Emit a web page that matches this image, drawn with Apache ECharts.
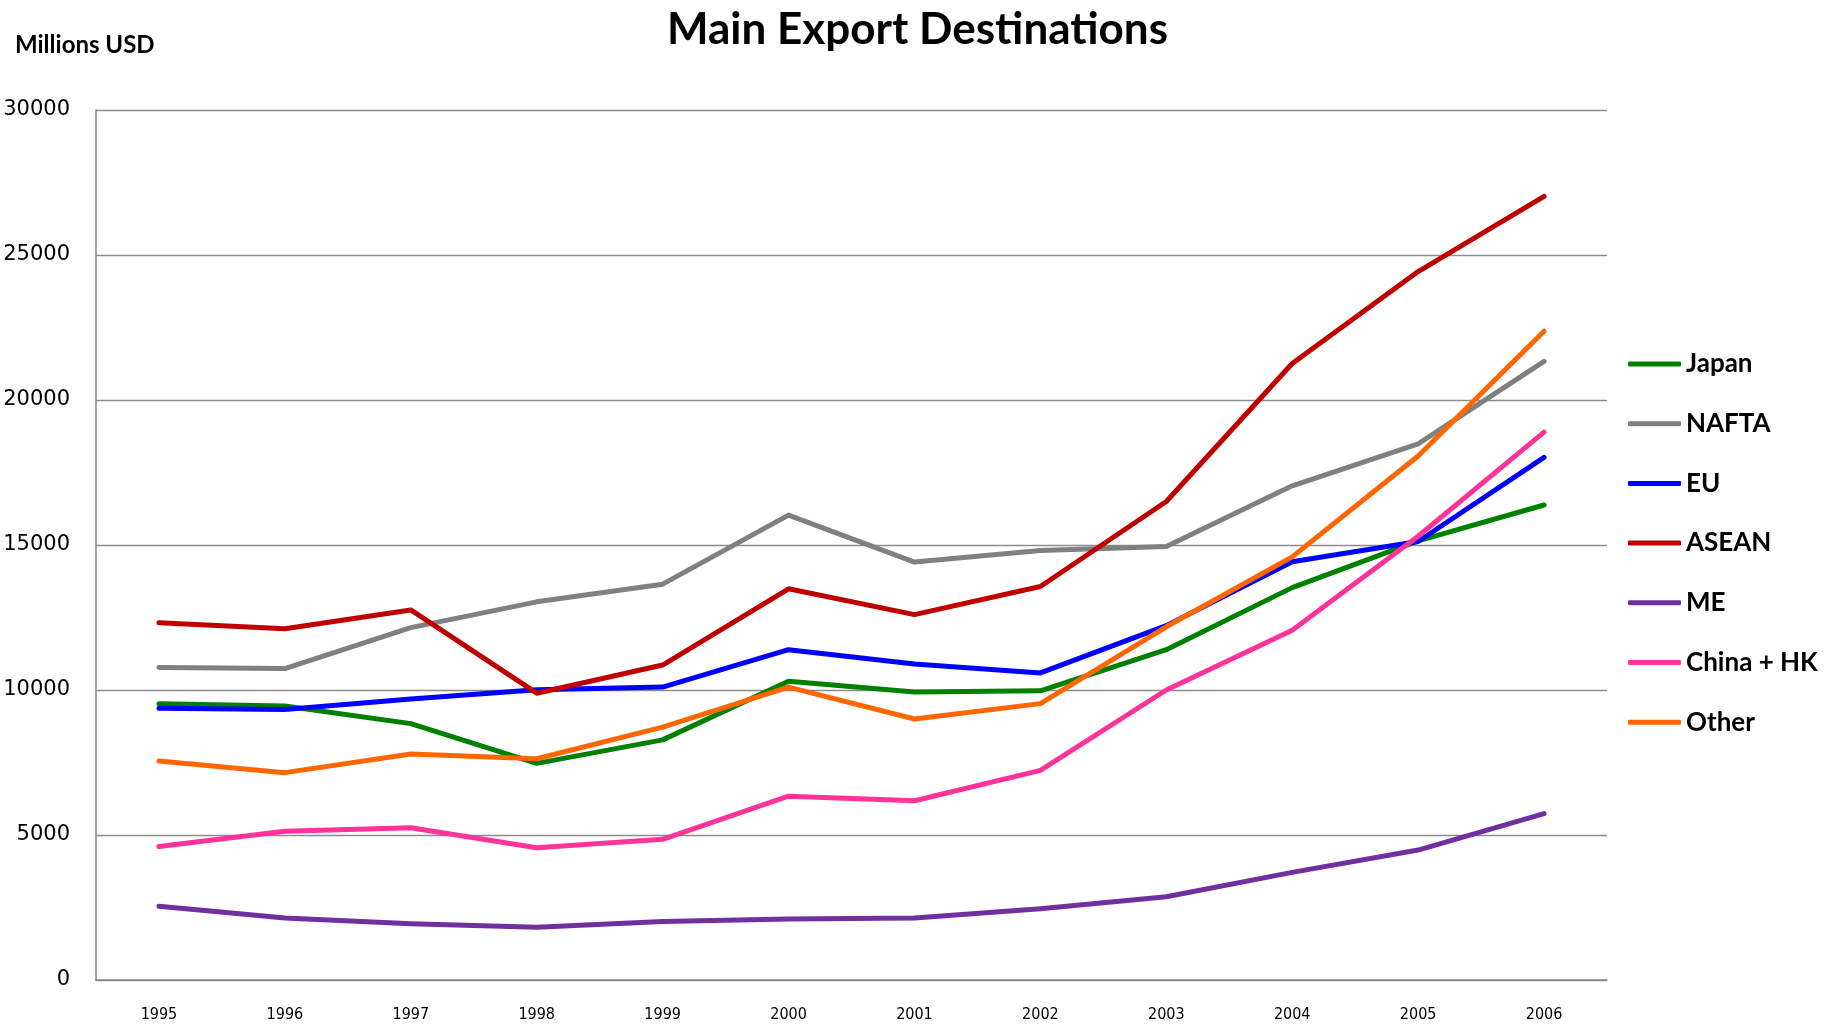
<!DOCTYPE html>
<html>
<head>
<meta charset="utf-8">
<title>Main Export Destinations</title>
<script src="https://cdn.jsdelivr.net/npm/echarts@6/dist/echarts.min.js"></script>
<style>
    html, body { margin: 0; padding: 0; background: #fff; }
    #export-destinations { width: 1835px; height: 1025px; }
</style>
</head>
<body>
<div id="export-destinations"></div>
<script>
'use strict';

var years = ['1995', '1996', '1997', '1998', '1999', '2000', '2001', '2002', '2003', '2004', '2005', '2006'];

var japan = [9530, 9450, 8840, 7470, 8280, 10300, 9930, 9970, 11390, 13530, 15140, 16380];
var nafta = [10780, 10740, 12150, 13040, 13650, 16030, 14410, 14810, 14950, 17040, 18490, 21330];
var eu = [9370, 9330, 9690, 10010, 10100, 11390, 10900, 10590, 12220, 14420, 15120, 18020];
var asean = [12320, 12110, 12760, 9890, 10860, 13490, 12600, 13570, 16500, 21260, 24430, 27020];
var me = [2540, 2140, 1940, 1820, 2020, 2100, 2140, 2460, 2870, 3710, 4480, 5740];
var chinaHk = [4600, 5130, 5250, 4560, 4850, 6340, 6180, 7230, 10000, 12060, 15300, 18890];
var other = [7550, 7150, 7790, 7630, 8720, 10100, 9000, 9530, 12180, 14590, 18070, 22370];

var yTicks = [0, 5000, 10000, 15000, 20000, 25000, 30000];

function makeSeries(name, color, data) {
    return {
        name: name,
        type: 'line',
        symbol: 'none',
        data: data,
        color: color,
        lineStyle: { width: 5, color: color, cap: 'round', join: 'round' }
    };
}

function renderExportDestinations() {
    var myChart = echarts.init(document.getElementById('export-destinations'));

    var option = {
        animation: false,
        backgroundColor: '#fff',
        title: [
            {
                text: 'Main Export Destinations',
                left: 'center',
                top: 3,
                textStyle: { fontFamily: 'Lato', fontWeight: 'bold', fontSize: 44, color: '#000' }
            },
            {
                text: 'Millions USD',
                left: 10,
                top: 28,
                textStyle: { fontFamily: 'Lato', fontWeight: 'bold', fontSize: 24, color: '#000' }
            }
        ],
        grid: {
            left: 96,
            right: 228,
            top: 110,
            bottom: 45
        },
        legend: {
            orient: 'vertical',
            left: 1623,
            top: 346,
            icon: 'roundRect',
            itemWidth: 53,
            itemHeight: 5,
            itemGap: 33.7,
            textStyle: { fontFamily: 'Lato', fontWeight: 'bold', fontSize: 26, color: '#000', lineHeight: 26 }
        },
        xAxis: [
            {
                type: 'category',
                data: years,
                boundaryGap: true,
                axisLine: { lineStyle: { color: '#868686', width: 1.5 } },
                axisTick: { show: false },
                axisLabel: {
                    margin: 27,
                    fontFamily: 'DejaVu Sans Condensed',
                    fontSize: 16,
                    color: '#000'
                }
            }
        ],
        yAxis: [
            {
                type: 'value',
                min: yTicks[0],
                max: yTicks[yTicks.length - 1],
                interval: yTicks[1] - yTicks[0],
                axisLine: { show: true, lineStyle: { color: '#868686', width: 1.5 } },
                axisTick: { show: false },
                splitLine: { lineStyle: { color: '#8c8c8c', width: 1.3 } },
                axisLabel: {
                    margin: 26,
                    fontFamily: 'DejaVu Sans',
                    fontSize: 21,
                    color: '#000',
                    formatter: function (v) { return String(v); }
                }
            }
        ],
        series: [
            makeSeries('Japan', '#008000', japan),
            makeSeries('NAFTA', '#808080', nafta),
            makeSeries('EU', '#0000ff', eu),
            makeSeries('ASEAN', '#c00000', asean),
            makeSeries('ME', '#7030a0', me),
            makeSeries('China + HK', '#ff3399', chinaHk),
            makeSeries('Other', '#ff6600', other)
        ]
    };

    myChart.setOption(option);
}

renderExportDestinations();
</script>
</body>
</html>
